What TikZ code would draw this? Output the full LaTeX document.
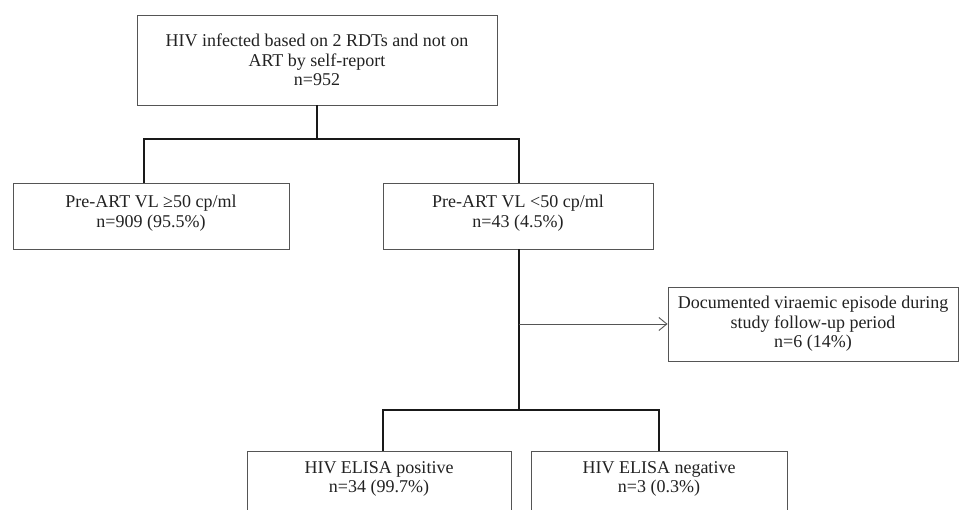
\documentclass[tikz,border=0pt]{standalone}
\usepackage{fontspec}
\setmainfont{Liberation Serif}
\usetikzlibrary{arrows.meta}
\definecolor{boxline}{HTML}{555555}
\definecolor{txt}{HTML}{222222}
\begin{document}
\begin{tikzpicture}[x=1pt,y=-1pt,
  box/.style={draw=boxline, line width=0.9pt, fill=white, align=center, text=txt,
    font=\fontsize{18}{19.5}\selectfont, inner sep=0pt},
  lbl/.style={align=center, text=txt, font=\fontsize{18}{19.5}\selectfont, inner sep=0pt},
  conn/.style={draw=black!90, line width=1.7pt},
  thin/.style={draw=boxline, line width=0.9pt}]
\useasboundingbox (0,0) rectangle (960,510);
\clip (0,0) rectangle (960,510);
% boxes
\node[box, minimum width=360pt, minimum height=90pt] (top) at (317,60)
  {HIV infected based on 2 RDTs and not on\\ART by self-report\\n=952};
\node[box, minimum width=276pt, minimum height=66pt] (ge) at (151,216) {};
\node[lbl] (gel) at (151,213) {Pre-ART VL ≥50 cp/ml\\n=909 (95.5\%)};
\node[box, minimum width=270pt, minimum height=66pt] (lt) at (518,216) {};
\node[lbl] (ltl) at (518,213) {Pre-ART VL <50 cp/ml\\n=43 (4.5\%)};
\node[box, minimum width=290pt, minimum height=74pt] (vir) at (813,324)
  {Documented viraemic episode during\\study follow-up period\\n=6 (14\%)};
\node[box, minimum width=264pt, minimum height=90pt, anchor=north] (pos) at (379,451) {};
\node[lbl, anchor=north] (posl) at (379,461) {HIV ELISA positive\\n=34 (99.7\%)};
\node[box, minimum width=256pt, minimum height=90pt, anchor=north] (neg) at (659,451) {};
\node[lbl, anchor=north] (negl) at (659,461) {HIV ELISA negative\\n=3 (0.3\%)};
% junction coordinates
\coordinate (j1) at (317,139);
\coordinate (j1l) at (144,139);
\coordinate (j1r) at (519,139);
\coordinate (j2) at (519,410);
\coordinate (j2l) at (383,410);
\coordinate (j2r) at (659,410);
\coordinate (ja) at (519,324);
% connectors
\draw[conn] (top.south) -- (j1);
\draw[conn] (j1l |- ge.north) -- (j1l) -- (j1r) -- (j1r |- lt.north);
\draw[conn] (j2 |- lt.south) -- (j2);
\draw[conn] (j2l |- pos.north) -- (j2l) -- (j2r) -- (j2r |- neg.north);
\draw[thin, -{Straight Barb[length=8pt,width=13pt]}] (ja) -- (vir.west);
\end{tikzpicture}
\end{document}
